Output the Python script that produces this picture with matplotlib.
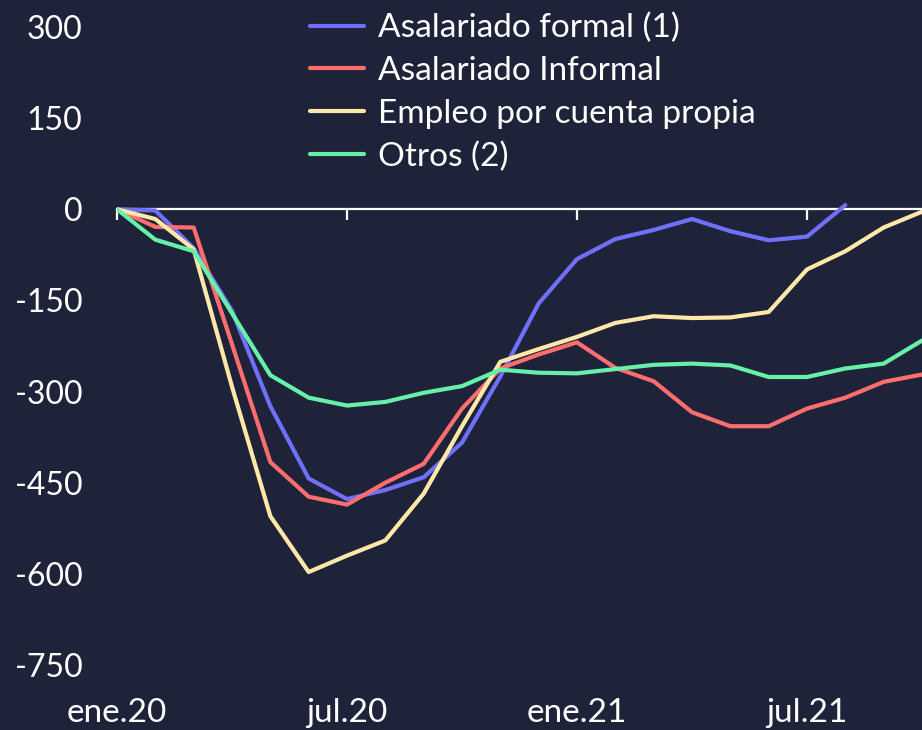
import matplotlib
matplotlib.use("Agg")
import matplotlib.pyplot as plt

plt.rcParams['font.family'] = ['Lato', 'DejaVu Sans']

months = list(range(22))
tick_pos = [0, 6, 12, 18]
tick_labels = ["ene.20", "jul.20", "ene.21", "jul.21"]
y_ticks = [300, 150, 0, -150, -300, -450, -600, -750]

formal = [0, -2, -64, -167, -324, -443, -477, -462, -441, -384, -275,
          -155, -82, -49, -34, -16, -36, -51, -45, 7]
informal = [0, -29, -30, -222, -416, -473, -486, -450, -419, -328, -262,
            -239, -219, -261, -283, -334, -357, -357, -328, -310, -284, -272]
propia = [0, -16, -66, -292, -505, -597, -570, -545, -468, -357, -251,
          -230, -210, -187, -176, -179, -178, -169, -99, -69, -30, -4]
otros = [0, -50, -69, -171, -273, -310, -323, -317, -302, -291, -264,
         -269, -270, -263, -256, -254, -257, -276, -276, -262, -254, -216]

names = ["Asalariado formal (1)", "Asalariado Informal",
         "Empleo por cuenta propia", "Otros (2)"]
colors = ["#7070FF", "#FF6E6E", "#FFE8A8", "#66F0A8"]
series = [formal, informal, propia, otros]

bg = "#1F2339"
fig = plt.figure(figsize=(9.22, 7.30), dpi=100, facecolor=bg)
ax = fig.add_axes([117/922, 1 - 665/730, (922-117)/922, (665-27)/730])
ax.set_facecolor(bg)

for s, c, n in zip(series, colors, names):
    ax.plot(months[:len(s)], s, color=c, lw=3.0, label=n, solid_capstyle='round', zorder=3)

ax.set_xlim(0, 21)
ax.set_ylim(-750, 300)
for sp in ax.spines.values():
    sp.set_visible(False)

ax.set_yticks(y_ticks)
ax.set_yticklabels([str(v) for v in y_ticks])
ax.set_xticks(tick_pos)
ax.set_xticklabels(tick_labels)
ax.tick_params(axis='y', length=0, pad=25, labelsize=23, colors='white')
ax.tick_params(axis='x', length=0, pad=24, labelsize=24, colors='white')

zero = ax.secondary_xaxis(750/1050)
for sp in zero.spines.values():
    sp.set_color('white')
    sp.set_linewidth(1.6)
zero.set_xticks(tick_pos)
zero.set_xticklabels([])
zero.tick_params(axis='x', direction='in', length=8, width=1.6, colors='white',
                 labelbottom=False, labeltop=False)

leg = ax.legend(loc='upper left', bbox_to_anchor=(193/805, 1.022), frameon=False,
                fontsize=24, labelcolor='white', handlelength=1.62, handletextpad=0.42,
                labelspacing=0.38, borderaxespad=0, borderpad=0)
for h in leg.get_lines():
    h.set_linewidth(3.0)
    h.set_solid_capstyle('round')

fig.savefig("out.png", dpi=100, facecolor=bg)
